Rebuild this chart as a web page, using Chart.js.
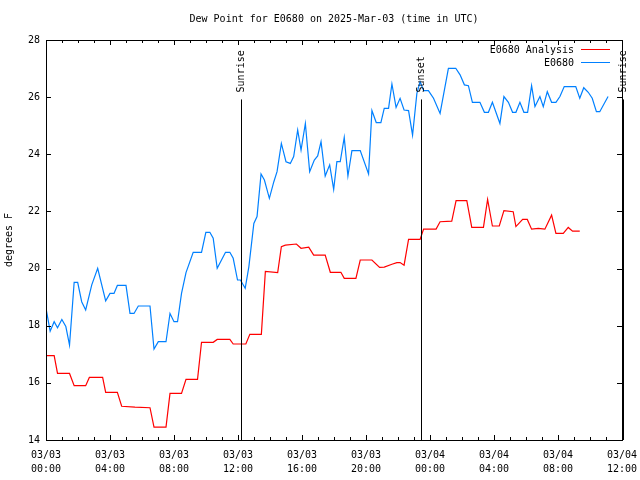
<!DOCTYPE html>
<html><head><meta charset="utf-8">
<script src="https://cdn.jsdelivr.net/npm/chart.js@4"></script>
<style>html,body{margin:0;padding:0;background:#fff}canvas{display:block}</style>
</head><body>
<canvas id="c" width="640" height="480"></canvas>
<script>
const titleText = 'Dew Point for E0680 on 2025-Mar-03 (time in UTC)';
const yAxisTitle = 'degrees F';
const seriesNames = ['E0680 Analysis', 'E0680'];
const seriesColors = ['#ff0000', '#0080ff'];
const xTickLabels = [['03/03','00:00'],['03/03','04:00'],['03/03','08:00'],['03/03','12:00'],['03/03','16:00'],['03/03','20:00'],['03/04','00:00'],['03/04','04:00'],['03/04','08:00'],['03/04','12:00']];
const yMin = 14, yMax = 28, yStep = 2;
const xMin = 0, xMax = 36, xStep = 4;

// hours since 03/03 00:00 UTC
const anaHours = [0,0.51,0.72,1.47,1.76,2.48,2.71,3.54,3.73,4.46,4.73,5.56,6.5,6.75,7.5,7.75,8.47,8.75,9.47,9.72,10.45,10.7,11.49,11.7,12.49,12.74,13.46,13.71,14.48,14.71,14.96,15.65,15.94,16.42,16.73,17.45,17.77,18.43,18.64,19.37,19.64,20.37,20.85,21.14,21.62,21.93,22.13,22.38,22.66,23.38,23.6,24.38,24.63,25.36,25.63,26.3,26.61,27.34,27.6,27.9,28.33,28.62,29.2,29.37,29.79,30.08,30.35,30.77,31.18,31.6,31.87,32.33,32.64,32.91,33.36];
const anaValues = [16.95,16.95,16.33,16.33,15.9,15.9,16.19,16.19,15.67,15.67,15.18,15.15,15.13,14.45,14.45,15.63,15.63,16.12,16.12,17.42,17.42,17.52,17.52,17.36,17.36,17.7,17.7,19.9,19.86,20.77,20.82,20.86,20.71,20.75,20.47,20.47,19.87,19.87,19.66,19.66,20.3,20.3,20.04,20.05,20.15,20.21,20.21,20.12,21.02,21.02,21.38,21.38,21.64,21.66,22.38,22.38,21.44,21.44,22.42,21.49,21.49,22.03,21.99,21.47,21.72,21.72,21.38,21.41,21.38,21.87,21.23,21.23,21.44,21.31,21.31];

const obsHours = [0,0.26,0.51,0.72,0.99,1.24,1.47,1.76,1.98,2.23,2.48,2.86,3.23,3.73,4.0,4.25,4.46,5.0,5.25,5.5,5.77,6.5,6.75,7.02,7.5,7.75,8.0,8.22,8.47,8.75,9.2,9.72,9.99,10.24,10.45,10.7,11.22,11.49,11.7,11.97,12.15,12.45,12.68,12.99,13.19,13.44,13.65,13.96,14.24,14.44,14.71,15.0,15.27,15.48,15.73,15.94,16.21,16.48,16.77,16.98,17.19,17.45,17.73,17.98,18.18,18.39,18.64,18.87,19.12,19.64,20.16,20.37,20.64,20.93,21.14,21.41,21.62,21.88,22.13,22.38,22.66,22.91,23.18,23.38,23.6,23.9,24.22,24.63,25.15,25.61,25.88,26.15,26.4,26.65,27.12,27.4,27.65,27.9,28.37,28.62,28.9,29.16,29.37,29.62,29.87,30.1,30.35,30.56,30.87,31.08,31.33,31.6,31.87,32.12,32.39,33.11,33.36,33.61,33.89,34.14,34.4,34.61,35.13];
const obsValues = [18.61,17.81,18.14,17.93,18.22,17.97,17.32,19.52,19.52,18.84,18.55,19.43,20.01,18.87,19.13,19.13,19.41,19.41,18.43,18.43,18.69,18.69,17.18,17.44,17.44,18.43,18.14,18.14,19.13,19.86,20.57,20.57,21.27,21.27,21.06,20.01,20.57,20.57,20.36,19.6,19.6,19.31,20.07,21.58,21.82,23.31,23.1,22.46,23.04,23.39,24.38,23.74,23.68,23.92,24.85,24.15,25.08,23.39,23.8,23.94,24.44,23.24,23.63,22.77,23.74,23.74,24.59,23.24,24.13,24.13,23.31,25.53,25.11,25.11,25.61,25.61,26.46,25.64,25.96,25.55,25.53,24.67,26.13,26.54,26.23,26.23,25.96,25.43,27.01,27.01,26.78,26.43,26.4,25.82,25.82,25.47,25.47,25.82,25.08,26.02,25.82,25.47,25.47,25.82,25.47,25.47,26.4,25.67,26.02,25.67,26.19,25.82,25.82,26.02,26.37,26.37,25.96,26.33,26.17,25.96,25.49,25.49,26.02];

const eventNames = ['Sunrise', 'Sunset', 'Sunrise'];
const eventHours = [12.17, 23.41, 36.05];
const eventLineTop = 25.92;

const FONT = '"DejaVu Sans Mono", "Liberation Mono", monospace';
const toXY = (xs, ys) => xs.map((x, i) => ({x: x, y: ys[i]}));
const c = v => Math.round(v) + 0.5;

const decor = {
  id: 'decor',
  afterDraw(chart) {
    const ctx = chart.ctx, a = chart.chartArea;
    const xs = chart.scales.x, ys = chart.scales.y;
    ctx.save();
    ctx.strokeStyle = '#000'; ctx.lineWidth = 1;
    ctx.strokeRect(c(a.left), c(a.top), Math.round(a.right) - Math.round(a.left), Math.round(a.bottom) - Math.round(a.top));
    ctx.beginPath();
    for (let h = xMin; h <= xMax; h++) {
      const px = c(xs.getPixelForValue(h));
      const len = (h % xStep === 0) ? 5 : 3;
      ctx.moveTo(px, Math.round(a.bottom)); ctx.lineTo(px, Math.round(a.bottom) - len);
      ctx.moveTo(px, Math.round(a.top)); ctx.lineTo(px, Math.round(a.top) + len);
    }
    for (let v = yMin; v <= yMax; v += yStep) {
      const py = c(ys.getPixelForValue(v));
      ctx.moveTo(Math.round(a.left), py); ctx.lineTo(Math.round(a.left) + 5, py);
      ctx.moveTo(Math.round(a.right), py); ctx.lineTo(Math.round(a.right) - 5, py);
    }
    ctx.stroke();
    ctx.font = '10px ' + FONT; ctx.fillStyle = '#000';
    eventHours.forEach((h, i) => {
      const px = c(xs.getPixelForValue(h));
      ctx.beginPath();
      ctx.moveTo(px, ys.getPixelForValue(eventLineTop));
      ctx.lineTo(px, Math.round(a.bottom));
      ctx.stroke();
      ctx.save();
      ctx.translate(px, ys.getPixelForValue(eventLineTop) - 7);
      ctx.rotate(-Math.PI / 2);
      ctx.textAlign = 'left'; ctx.textBaseline = 'middle';
      ctx.fillText(eventNames[i], 0, 0);
      ctx.restore();
    });
    ctx.textAlign = 'right'; ctx.textBaseline = 'middle';
    seriesNames.forEach((n, i) => {
      const y = 50 + i * 13;
      ctx.fillStyle = '#000';
      ctx.fillText(n, 574, y);
      ctx.strokeStyle = seriesColors[i];
      ctx.beginPath(); ctx.moveTo(581, y - 0.5); ctx.lineTo(610, y - 0.5); ctx.stroke();
    });
    ctx.fillStyle = '#000'; ctx.textAlign = 'center';
    ctx.fillText(titleText, (a.left + a.right) / 2, 19);
    ctx.restore();
  }
};

new Chart(document.getElementById('c'), {
  type: 'line',
  data: {
    datasets: [
      { label: seriesNames[0], data: toXY(anaHours, anaValues), borderColor: seriesColors[0], borderWidth: 1.2, pointRadius: 0, tension: 0, fill: false },
      { label: seriesNames[1], data: toXY(obsHours, obsValues), borderColor: seriesColors[1], borderWidth: 1.2, pointRadius: 0, tension: 0, fill: false }
    ]
  },
  options: {
    responsive: false, animation: false, devicePixelRatio: 1,
    layout: { padding: { top: 40, right: 18, left: 0, bottom: 0 } },
    plugins: { legend: { display: false }, title: { display: false }, tooltip: { enabled: false } },
    scales: {
      x: {
        type: 'linear', min: xMin, max: xMax,
        grid: { display: false, drawTicks: false }, border: { display: false },
        afterBuildTicks: s => { s.ticks = xTickLabels.map((_, i) => ({ value: xMin + i * xStep })); },
        afterFit: s => { s.height = 40; s.paddingLeft = 0; s.paddingRight = 0; },
        ticks: { autoSkip: false, maxRotation: 0, padding: 8, color: '#000',
          font: { family: FONT, size: 10, lineHeight: 1.4 },
          callback: v => xTickLabels[Math.round((v - xMin) / xStep)] }
      },
      y: {
        min: yMin, max: yMax,
        grid: { display: false, drawTicks: false }, border: { display: false },
        afterFit: s => { s.width = 46; s.paddingTop = 0; s.paddingBottom = 0; },
        ticks: { stepSize: yStep, padding: 6, color: '#000', font: { family: FONT, size: 10 } },
        title: { display: true, text: yAxisTitle, color: '#000', font: { family: FONT, size: 10 }, padding: { top: 3, bottom: 0 } }
      }
    }
  },
  plugins: [decor]
});
</script>
</body></html>
